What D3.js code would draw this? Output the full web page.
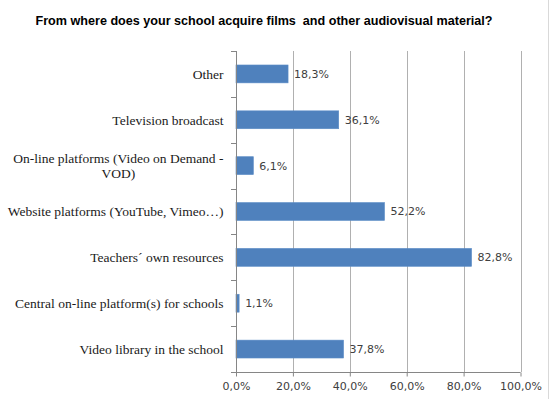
<!DOCTYPE html>
<html>
<head>
<meta charset="utf-8">
<script src="https://cdn.jsdelivr.net/npm/d3@7"></script>
<style>
  html, body { margin: 0; padding: 0; background: #fff; }
  svg { display: block; }
</style>
</head>
<body>
<svg id="chart" width="551" height="399"></svg>
<script>
// Survey answers, top to bottom as shown
const categories = [
  "Other",
  "Television broadcast",
  "On-line platforms (Video on Demand -\nVOD)",
  "Website platforms (YouTube, Vimeo\u2026)",
  "Teachers\u00b4 own resources",
  "Central on-line platform(s) for schools",
  "Video library in the school"
];
const values = [18.3, 36.1, 6.1, 52.2, 82.8, 1.1, 37.8];
const tickValues = [0, 20, 40, 60, 80, 100];
const titleText = "From where does your school acquire films  and other audiovisual material?";

const svg = d3.select("#chart");
const W = 551, H = 399;
const plot = { left: 236, right: 520.5, top: 51, bottom: 372 };

const fmt = v => v.toFixed(1).replace(".", ",") + "%";

const x = d3.scaleLinear().domain([0, 100]).range([plot.left, plot.right]);
const y = d3.scaleBand().domain(categories).range([plot.top, plot.bottom])
  .paddingInner(0.61).paddingOuter(0.305);

// frame line on the right edge
svg.append("line")
  .attr("x1", 548.5).attr("x2", 548.5).attr("y1", 0).attr("y2", H)
  .attr("stroke", "#d9d9d9").attr("stroke-width", 1);

// title
svg.append("text")
  .attr("x", 264).attr("y", 24.5)
  .attr("text-anchor", "middle")
  .attr("font-family", "'Liberation Sans', Arial, sans-serif")
  .attr("font-weight", "bold")
  .attr("font-size", 12.6)
  .attr("fill", "#000")
  .attr("xml:space", "preserve")
  .text(titleText);

// vertical gridlines
svg.append("g")
  .selectAll("line")
  .data(tickValues.filter(d => d > 0))
  .join("line")
  .attr("x1", d => Math.round(x(d)) + 0.5).attr("x2", d => Math.round(x(d)) + 0.5)
  .attr("y1", plot.top).attr("y2", plot.bottom)
  .attr("stroke", "#b0b0b0").attr("stroke-width", 1);

// bars
svg.append("g")
  .selectAll("rect")
  .data(values)
  .join("rect")
  .attr("x", x(0))
  .attr("y", (d, i) => y(categories[i]))
  .attr("width", d => x(d) - x(0))
  .attr("height", y.bandwidth())
  .attr("fill", "#4f81bd")
  .attr("stroke", "#5b8cc6")
  .attr("stroke-width", 0.6);

// value labels
svg.append("g")
  .selectAll("text")
  .data(values)
  .join("text")
  .attr("x", d => x(d) + 6)
  .attr("y", (d, i) => y(categories[i]) + y.bandwidth() / 2)
  .attr("dy", "0.36em")
  .attr("font-family", "'DejaVu Sans', Verdana, sans-serif")
  .attr("font-size", 11)
  .attr("fill", "#404040")
  .text(fmt);

// x axis
const xAxis = d3.axisBottom(x).tickValues(tickValues).tickFormat(fmt).tickSizeOuter(0).tickSize(4);
const gx = svg.append("g")
  .attr("transform", `translate(0,${plot.bottom + 0.5})`)
  .call(xAxis);
gx.select(".domain").attr("stroke", "#868686").attr("d", `M${plot.left - 5},0H${plot.right}`);
gx.selectAll(".tick line").attr("stroke", "#868686");
gx.selectAll(".tick text")
  .attr("font-family", "'DejaVu Sans', Verdana, sans-serif")
  .attr("font-size", 11)
  .attr("fill", "#404040")
  .attr("y", 10);

// y axis line and separator ticks between categories
const gy = svg.append("g");
gy.append("line")
  .attr("x1", plot.left + 0.5).attr("x2", plot.left + 0.5)
  .attr("y1", plot.top).attr("y2", plot.bottom + 4)
  .attr("stroke", "#868686");
const step = y.step();
const sepY = d3.range(categories.length + 1).map(i => plot.top + i * step);
gy.selectAll("line.sep")
  .data(sepY)
  .join("line")
  .attr("class", "sep")
  .attr("x1", plot.left - 5).attr("x2", plot.left)
  .attr("y1", d => Math.round(d) + 0.5).attr("y2", d => Math.round(d) + 0.5)
  .attr("stroke", "#868686");

// category labels (multi-line labels centred on each other, block right-aligned)
const labelRight = 223.5;
const lineH = 15;
categories.forEach(cat => {
  const lines = cat.split("\n");
  const cy = y(cat) + y.bandwidth() / 2;
  const t = svg.append("text")
    .attr("font-family", "'Liberation Serif', 'DejaVu Serif', serif")
    .attr("font-size", 13.5)
    .attr("fill", "#1a1a1a");
  const spans = lines.map((ln, k) =>
    t.append("tspan")
      .attr("y", cy + (k - (lines.length - 1) / 2) * lineH)
      .attr("dy", "0.35em")
      .text(ln));
  const widths = spans.map(s => s.node().getComputedTextLength());
  const maxW = d3.max(widths);
  spans.forEach((s, k) => {
    s.attr("x", labelRight - maxW / 2).attr("text-anchor", "middle");
  });
});
</script>
</body>
</html>
